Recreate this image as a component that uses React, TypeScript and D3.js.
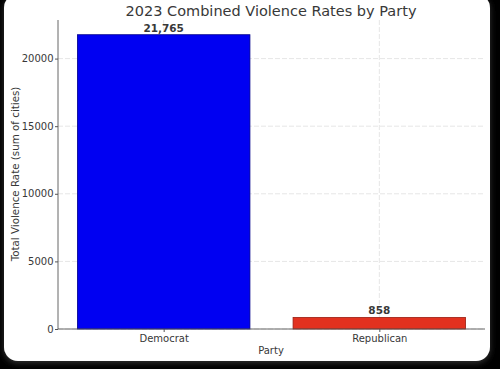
import React, { useEffect, useRef } from 'react'
import * as d3 from 'd3'

const parties = ['Democrat', 'Republican']
const totals = [21765, 858]
const barColors = ['#0000f2', '#e2311f']
const edgeColors = ['#00008a', '#9a1e12']
const yTicks = [0, 5000, 10000, 15000, 20000]

export default function App() {
    const ref = useRef<SVGSVGElement>(null)

    useEffect(() => {
        const svg = d3.select(ref.current)
        svg.selectAll('*').remove()

        const W = 500, H = 369
        const font = 'DejaVu Sans, sans-serif'
        const text = '#383838'

        // background + card
        svg.append('rect').attr('width', W).attr('height', H).attr('fill', '#000')
        const defs = svg.append('defs')
        const f = defs.append('filter').attr('id', 'sh').attr('x', -0.1).attr('y', -0.1).attr('width', 1.2).attr('height', 1.2)
        f.append('feDropShadow').attr('dx', 0).attr('dy', 2).attr('stdDeviation', 3).attr('flood-color', '#555').attr('flood-opacity', 0.6)
        svg.append('rect')
            .attr('x', 4).attr('y', -6).attr('width', 486).attr('height', 367)
            .attr('rx', 14).attr('ry', 14)
            .attr('fill', '#fff')
            .attr('filter', 'url(#sh)')

        const left = 58, right = 485, top = 20, bottom = 329

        const x = d3.scaleLinear().domain([-0.49, 1.49]).range([left, right])
        const y = d3.scaleLinear().domain([0, 21765 * 1.05]).range([bottom, top])
        const bw = x(0.8) - x(0)

        // grid
        const g = svg.append('g')
        g.selectAll('line.hg').data(yTicks).join('line')
            .attr('x1', left).attr('x2', right)
            .attr('y1', d => y(d)).attr('y2', d => y(d))
            .attr('stroke', '#e6e6e6').attr('stroke-width', 1).attr('stroke-dasharray', '5,2')
        g.selectAll('line.vg').data(parties).join('line')
            .attr('x1', (_, i) => x(i)).attr('x2', (_, i) => x(i))
            .attr('y1', top).attr('y2', bottom)
            .attr('stroke', '#e6e6e6').attr('stroke-width', 1).attr('stroke-dasharray', '5,2')

        // bars
        svg.selectAll('rect.bar').data(totals).join('rect')
            .attr('class', 'bar')
            .attr('x', (_, i) => x(i) - bw / 2)
            .attr('width', bw)
            .attr('y', d => y(d))
            .attr('height', d => bottom - y(d))
            .attr('fill', (_, i) => barColors[i])
            .attr('stroke', (_, i) => edgeColors[i])
            .attr('stroke-width', 0.8)

        // value labels
        svg.selectAll('text.val').data(totals).join('text')
            .attr('x', (_, i) => x(i))
            .attr('y', d => y(d) - 3)
            .attr('text-anchor', 'middle')
            .attr('font-family', font).attr('font-size', 10.5).attr('font-weight', 'bold')
            .attr('fill', text)
            .text(d => d3.format(',')(d))

        // axes
        const ya = svg.append('g').attr('transform', `translate(${left},0)`)
            .call(d3.axisLeft(y).tickValues(yTicks).tickSize(3).tickPadding(1.5).tickFormat(d3.format('d')))
        const xa = svg.append('g').attr('transform', `translate(0,${bottom})`)
            .call(d3.axisBottom(x).tickValues([0, 1]).tickSize(3).tickPadding(3).tickFormat((d: any) => parties[d]))
        for (const a of [ya, xa]) {
            a.select('.domain').attr('stroke', '#555').attr('stroke-width', 0.9)
            a.selectAll('.tick line').attr('stroke', '#555')
            a.selectAll('.tick text').attr('font-family', font).attr('font-size', 10).attr('fill', text)
        }
        ya.select('.domain').attr('d', `M0,${bottom}V${top}`)
        xa.select('.domain').attr('d', `M${left},0H${right}`)

        // titles
        svg.append('text')
            .attr('x', 271).attr('y', 16)
            .attr('text-anchor', 'middle')
            .attr('font-family', font).attr('font-size', 14.5)
            .attr('fill', text)
            .text('2023 Combined Violence Rates by Party')
        svg.append('text')
            .attr('x', 271).attr('y', 354)
            .attr('text-anchor', 'middle')
            .attr('font-family', font).attr('font-size', 10)
            .attr('fill', text)
            .text('Party')
        svg.append('text')
            .attr('transform', `translate(19,174) rotate(-90)`)
            .attr('text-anchor', 'middle')
            .attr('font-family', font).attr('font-size', 10.3)
            .attr('fill', text)
            .text('Total Violence Rate (sum of cities)')
    }, [])

    return (
        <svg ref={ref} width={500} height={369}
            style={{ position: 'absolute', left: 0, top: 0, display: 'block' }} />
    )
}
